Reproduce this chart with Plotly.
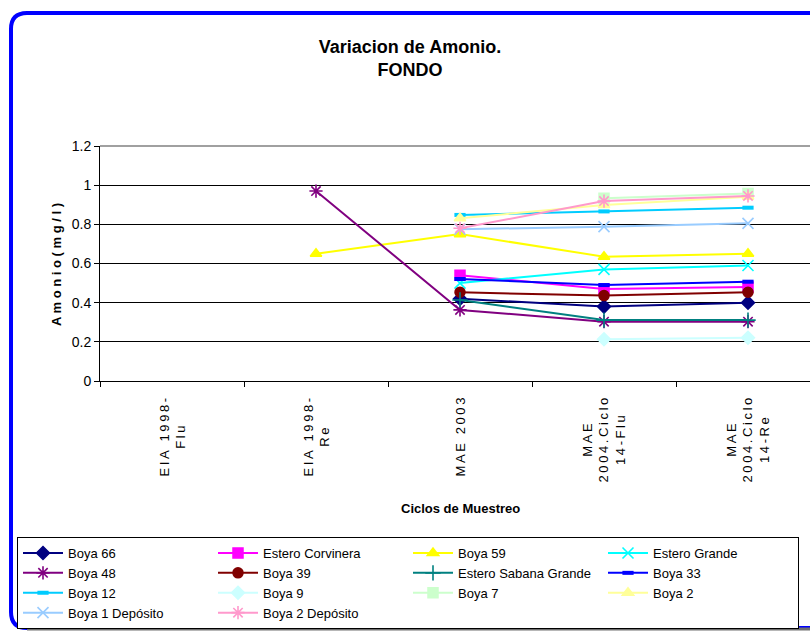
import plotly.graph_objects as go

# ---- data ----
categories = ["EIA 1998-Flu", "EIA 1998-Re", "MAE 2003",
              "MAE 2004.Ciclo 14-Flu", "MAE 2004.Ciclo 14-Re"]
tick_lines = [["EIA 1998-", "Flu"], ["EIA 1998-", "Re"], ["MAE 2003"],
              ["MAE", "2004.Ciclo", "14-Flu"], ["MAE", "2004.Ciclo", "14-Re"]]

boya_66 = [None, None, 0.42, 0.38, 0.40]
estero_corvinera = [None, None, 0.54, 0.47, 0.48]
boya_59 = [None, 0.65, 0.75, 0.635, 0.65]
estero_grande = [None, None, 0.50, 0.57, 0.59]
boya_48 = [None, 0.97, 0.363, 0.303, 0.303]
boya_39 = [None, None, 0.453, 0.436, 0.453]
estero_sabana_grande = [None, None, 0.414, 0.311, 0.311]
boya_33 = [None, None, 0.521, 0.49, 0.507]
boya_12 = [None, None, 0.848, 0.866, 0.885]
boya_9 = [None, None, None, 0.213, 0.221]
boya_7 = [None, None, None, 0.933, 0.958]
boya_2 = [None, None, 0.831, 0.899, 0.941]
boya_1_deposito = [None, None, 0.775, 0.788, 0.805]
boya_2_deposito = [None, None, 0.78, 0.919, 0.945]

series = [
    ("Boya 66", boya_66, "#000080", "diamond"),
    ("Estero Corvinera", estero_corvinera, "#FF00FF", "square"),
    ("Boya 59", boya_59, "#FFFF00", "triangle-up"),
    ("Estero Grande", estero_grande, "#00FFFF", "x-thin-open"),
    ("Boya 48", boya_48, "#800080", "asterisk-open"),
    ("Boya 39", boya_39, "#800000", "circle"),
    ("Estero Sabana Grande", estero_sabana_grande, "#008080", "cross-thin-open"),
    ("Boya 33", boya_33, "#0000FF", "line-ew-open"),
    ("Boya 12", boya_12, "#00CCFF", "line-ew-open"),
    ("Boya 9", boya_9, "#CCFFFF", "diamond"),
    ("Boya 7", boya_7, "#CCFFCC", "square"),
    ("Boya 2", boya_2, "#FFFF99", "triangle-up"),
    ("Boya 1 Depósito", boya_1_deposito, "#99CCFF", "x-thin-open"),
    ("Boya 2 Depósito", boya_2_deposito, "#FF99CC", "asterisk-open"),
]

FONT = "Liberation Sans, Arial, sans-serif"
W, H = 810, 632
ML, MT = 100, 146
PLOT_W, PLOT_H = 710, 235
CAT_W = 144.0


def spaced(s):
    return "\u2009".join(s)


tick_text = ["<br>".join(spaced(l) for l in lines) for lines in tick_lines]

fig = go.Figure()
for name, vals, color, sym in series:
    mk = dict(symbol=sym, color=color, size=10, line=dict(color=color, width=1.5))
    if sym.endswith("-open"):
        mk["size"] = 11
        mk["line"] = dict(color=color, width=1.6)
    if sym == "line-ew-open":
        mk["size"] = 8
        mk["line"] = dict(color=color, width=4)
    fig.add_trace(go.Scatter(
        x=categories, y=vals, name=name, mode="lines+markers",
        connectgaps=False,
        line=dict(color=color, width=2),
        marker=mk,
    ))


def px_x(px):
    return (px - ML) / PLOT_W


def px_y(py):
    return (MT + PLOT_H - py) / PLOT_H


# outer chart border (blue rounded frame) and bottom shadow
r = 16
x0, y0, x1, y1 = 11, 13, 840, 628
path = (f"M {px_x(x0)},{px_y(y1 - r)} L {px_x(x0)},{px_y(y0 + r)} "
        f"Q {px_x(x0)},{px_y(y0)} {px_x(x0 + r)},{px_y(y0)} L {px_x(x1)},{px_y(y0)}")
path_b = (f"M {px_x(x0)},{px_y(y1 - r)} Q {px_x(x0)},{px_y(y1)} {px_x(x0 + r)},{px_y(y1)} "
          f"L {px_x(x1)},{px_y(y1)}")
shapes = [
    dict(type="line", xref="paper", yref="paper", x0=0, x1=1.05,
         y0=1, y1=1, line=dict(color="#808080", width=1.5)),
    dict(type="path", xref="paper", yref="paper", path=path_b,
         line=dict(color="#0000FF", width=4)),
    dict(type="line", xref="paper", yref="paper", x0=px_x(x0 + r), x1=px_x(x1),
         y0=px_y(y1 + 1), y1=px_y(y1 + 1), line=dict(color="#707070", width=3)),
    dict(type="path", xref="paper", yref="paper", path=path,
         line=dict(color="#0000FF", width=4)),
]

annotations = [
    dict(text="<b>Ciclos de Muestreo</b>", xref="paper", yref="paper",
         x=px_x(460), y=px_y(508), xanchor="center", yanchor="middle",
         showarrow=False, font=dict(family=FONT, size=13, color="black")),
    dict(text="<b>" + " ".join("Amonio(mg/l)") + "</b>", xref="paper", yref="paper",
         x=px_x(56), y=px_y(265), xanchor="center", yanchor="middle",
         showarrow=False, textangle=-90,
         font=dict(family=FONT, size=13, color="black")),
]
# category tick labels (rotated, centred lines) placed on the category axis
for cat, txt in zip(categories, tick_text):
    annotations.append(dict(
        text=txt, xref="x", yref="paper", x=cat, y=px_y(396),
        xanchor="center", yanchor="top", align="center", textangle=-90,
        showarrow=False, font=dict(family=FONT, size=13, color="black")))

fig.update_layout(
    width=W, height=H,
    margin=dict(l=ML, r=W - ML - PLOT_W, t=MT, b=H - MT - PLOT_H, pad=0),
    paper_bgcolor="white", plot_bgcolor="white",
    font=dict(family=FONT, color="black"),
    title=dict(text="<b>Variacion de Amonio.<br>FONDO</b>", x=410 / W, xanchor="center",
               xref="container", y=1 - 53 / H, yanchor="middle", yref="container",
               font=dict(family=FONT, size=18, color="black")),
    xaxis=dict(type="category", categoryorder="array", categoryarray=categories,
               range=[-0.5, -0.5 + PLOT_W / CAT_W],
               showticklabels=False, tickson="boundaries", ticks="outside", ticklen=5,
               tickcolor="black", showline=True, linecolor="black", linewidth=1,
               showgrid=False),
    yaxis=dict(range=[0, 1.2], dtick=0.2, tick0=0, showgrid=True, gridcolor="black",
               gridwidth=1, zeroline=False, showline=True, linecolor="black",
               linewidth=1, ticks="outside", ticklen=5, tickcolor="black",
               tickfont=dict(family=FONT, size=14, color="black")),
    legend=dict(orientation="h", xref="paper", yref="paper",
                x=px_x(17), y=px_y(537), xanchor="left", yanchor="top",
                entrywidth=140, entrywidthmode="pixels",
                bgcolor="white", bordercolor="black", borderwidth=1,
                font=dict(family=FONT, size=13, color="black"),
                itemwidth=40, tracegroupgap=0, traceorder="normal"),
    shapes=shapes,
    annotations=annotations,
    showlegend=True,
)

fig.write_html("out.html", config={"displayModeBar": False},
               post_script="document.body.style.margin='0';")
